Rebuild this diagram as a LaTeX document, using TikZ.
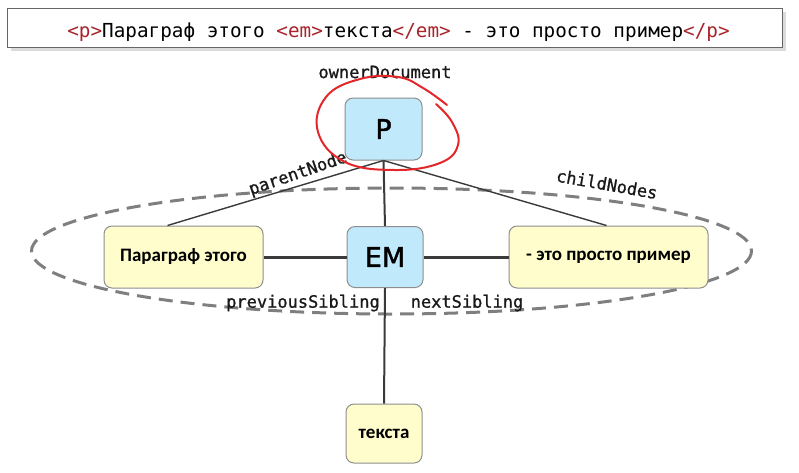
\documentclass[tikz,border=0pt]{standalone}
\usepackage{fontspec}
\usetikzlibrary{calc}
\newfontfamily\monof{DejaVu Sans Mono}
\newfontfamily\monob[FakeBold=1]{DejaVu Sans Mono}
\newfontfamily\carl{Carlito}
\newfontfamily\dvs[FakeBold=1.5]{DejaVu Sans}
\definecolor{nodeblue}{HTML}{C0E9FB}
\definecolor{nodeyellow}{HTML}{FEFDCB}
\definecolor{nodeborder}{HTML}{8E8E8E}
\definecolor{tagred}{HTML}{A8232A}
\definecolor{linegray}{HTML}{3A3A3A}
\definecolor{dashgray}{HTML}{7F7F7F}
\definecolor{penred}{HTML}{E3262A}
\begin{document}
\begin{tikzpicture}[x=1pt,y=-1pt,
  box/.style={draw=nodeborder, line width=1pt, rounded corners=8pt, inner sep=0pt},
  bluebox/.style={box, fill=nodeblue, font=\dvs\fontsize{27}{30}\selectfont},
  yellowbox/.style={box, fill=nodeyellow, font=\carl\bfseries\fontsize{19}{22}\selectfont},
  lbl/.style={font=\monob\fontsize{17}{20}\selectfont, inner sep=0pt, text=black!90},
  conn/.style={draw=linegray, line width=1.4pt},
  vconn/.style={draw=linegray, line width=2pt},
  hconn/.style={draw=linegray, line width=3pt},
  tag/.style={text=tagred}]
\useasboundingbox (0,0) rectangle (799,472);
% code box
\fill[black!14] (11,12) rectangle (786,51);
\node[draw=black!60, fill=white, line width=1pt, minimum width=775pt, minimum height=39pt, inner sep=0pt] (code) at (394.5,27.5) {};
\node[font=\monof\fontsize{19.3}{22}\selectfont, inner sep=0pt, anchor=base] (codetext) at (398.5,37)
  {{\color{tagred}<p>}Параграф этого {\color{tagred}<em>}текста{\color{tagred}</em>} - это просто пример{\color{tagred}</p>}};
% dashed ellipse
\draw[dashgray, line width=3pt, dash pattern=on 14pt off 8pt] (391.5,251) ellipse [x radius=360, y radius=63];
% nodes
\node[bluebox, minimum width=77pt, minimum height=62pt] (P) at (383.5,129) {P};
\node[bluebox, minimum width=76pt, minimum height=61pt] (EM) at (385,257) {EM};
\node[yellowbox, minimum width=159pt, minimum height=62pt] (L) at (183.5,257) {Параграф этого};
\node[yellowbox, minimum width=199pt, minimum height=62pt] (R) at (608.5,257) {- это просто пример};
\node[yellowbox, minimum width=76pt, minimum height=59pt] (T) at (384,433.5) {текста};
% connectors
\coordinate (Lt) at ($(L.north west)!0.4!(L.north east)$);
\coordinate (Rt) at ($(R.north west)!0.49!(R.north east)$);
\draw[conn] (P.south) -- (Lt);
\draw[conn] (P.south) -- (Rt);
\draw[vconn] (P.south) -- (EM.north);
\draw[vconn] (EM.south) -- (T.north);
\draw[hconn] (L.east) -- (EM.west);
\draw[hconn] (EM.east) -- (R.west);
% labels
\node[lbl] (owner) at (385,72) {ownerDocument};
\node[lbl, rotate=19] (parent) at (298,174) {parentNode};
\node[lbl, rotate=-10] (child) at (607,184) {childNodes};
\node[lbl] (prev) at (303,303) {previousSibling};
\node[lbl] (next) at (467,303) {nextSibling};
% red freehand loop
\draw[penred, line width=2pt, line cap=round, line join=round]
  plot[smooth, tension=0.7] coordinates {(436,104) (452,122) (458,145) (440,163) (395,170) (345,162) (318,132) (326,97) (360,79) (398,77) (423,88) (447,105)};
\end{tikzpicture}
\end{document}
